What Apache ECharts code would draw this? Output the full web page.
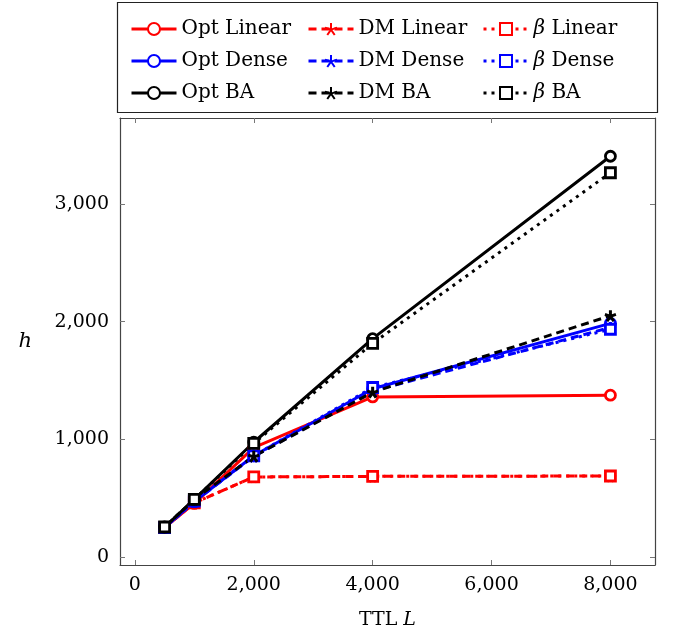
<!DOCTYPE html>
<html lang="en">
<head>
	<meta charset="UTF-8">
	<title>TTL chart</title>
	<script src="https://cdn.jsdelivr.net/npm/echarts@6/dist/echarts.min.js"></script>
</head>
<body style="margin:0">

	<div id="chart" style="width: 683px;height: 635px;"></div>

	<script type="text/javascript">
	var ttl = [500, 1000, 2000, 4000, 8000];
	var xTicks = [0, 2000, 4000, 6000, 8000];
	var yTicks = [0, 1000, 2000, 3000];

	var optLinear = [250, 455, 930, 1360, 1375];
	var dmLinear = [250, 460, 680, 685, 688];
	var betaLinear = [250, 460, 680, 685, 688];
	var optDense = [250, 470, 860, 1430, 1985];
	var dmDense = [250, 470, 855, 1410, 1950];
	var betaDense = [250, 475, 860, 1440, 1935];
	var optBA = [255, 490, 975, 1855, 3405];
	var dmBA = [255, 490, 855, 1400, 2050];
	var betaBA = [255, 490, 965, 1815, 3265];

	var font = 'DejaVu Serif';
	var starPath = 'path://M0,0 L0,-1 M0,0 L-0.951,-0.309 M0,0 L-0.588,0.809 M0,0 L0.588,0.809 M0,0 L0.951,-0.309';

	function pairs(vals) {
		var out = [];
		for (var i = 0; i < ttl.length; i++) out.push([ttl[i], vals[i]]);
		return out;
	}

	function mk(name, vals, color, kind) {
		var s = {
			name: name,
			type: 'line',
			data: pairs(vals),
			symbolSize: 10,
			lineStyle: { color: color, width: 3 },
			itemStyle: { color: '#fff', borderColor: color, borderWidth: 2.8 },
			emphasis: { disabled: true },
			animation: false
		};
		if (kind == 'opt') {
			s.symbol = 'circle';
		} else if (kind == 'dm') {
			s.symbol = starPath;
			s.symbolSize = 11;
			s.lineStyle.type = [8, 5];
			s.itemStyle = { color: color, borderColor: color, borderWidth: 3 };
		} else {
			s.symbol = 'rect';
			s.symbolSize = 10;
			s.lineStyle.type = [3, 5];
		}
		return s;
	}

	var legendText = {
		fontFamily: font, fontSize: 20, color: '#000',
		rich: { i: { fontFamily: font, fontSize: 20, fontStyle: 'italic', color: '#000' } }
	};
	function legendCol(left, names) {
		return {
			orient: 'vertical', left: left, top: 14,
			itemWidth: 45, itemHeight: 15, itemGap: 12,
			data: names,
			textStyle: legendText,
			lineStyle: { width: 3 },
			formatter: function (n) { return n.replace('β', '{i|β}'); }
		};
	}

	var chart = echarts.init(document.getElementById('chart'));

	var xBase = {
		type: 'value', min: -250, max: 8750,
		axisLine: { show: true, onZero: false, lineStyle: { color: '#444', width: 1.2 } },
		axisTick: { inside: true, length: 5, customValues: xTicks, lineStyle: { color: '#777' } },
		splitLine: { show: false }
	};
	var yBase = {
		type: 'value', min: -68, max: 3730,
		axisLine: { show: true, onZero: false, lineStyle: { color: '#444', width: 1.2 } },
		axisTick: { inside: true, length: 5, customValues: yTicks, lineStyle: { color: '#777' } },
		splitLine: { show: false }
	};

	var option = {
		backgroundColor: '#fff',
		graphic: [{
			type: 'rect',
			shape: { x: 117.5, y: 2.5, width: 540, height: 110 },
			style: { fill: 'none', stroke: '#222', lineWidth: 1.2 }
		}],
		legend: [
			legendCol(125, ['Opt Linear', 'Opt Dense', 'Opt BA']),
			legendCol(302, ['DM Linear', 'DM Dense', 'DM BA']),
			legendCol(477, ['β Linear', 'β Dense', 'β BA'])
		],
		grid: { left: 120, right: 28, top: 118, bottom: 70 },
		xAxis: [
			Object.assign({}, xBase, {
				position: 'bottom',
				name: 'TTL {i|L}', nameLocation: 'middle', nameGap: 46,
				nameTextStyle: {
					fontFamily: font, fontSize: 19, color: '#000',
					rich: { i: { fontFamily: font, fontSize: 19, fontStyle: 'italic' } }
				},
				axisLabel: {
					customValues: xTicks, margin: 11,
					fontFamily: font, fontSize: 19, color: '#000',
					formatter: function (v) { return v.toLocaleString('en-US'); }
				}
			}),
			Object.assign({}, xBase, { position: 'top', axisLabel: { show: false } })
		],
		yAxis: [
			Object.assign({}, yBase, {
				position: 'left',
				name: 'h', nameLocation: 'middle', nameGap: 88, nameRotate: 0,
				nameTextStyle: { fontFamily: font, fontSize: 21, fontStyle: 'italic', color: '#000' },
				axisLabel: {
					customValues: yTicks, margin: 11,
					fontFamily: font, fontSize: 19, color: '#000',
					formatter: function (v) { return v.toLocaleString('en-US'); }
				}
			}),
			Object.assign({}, yBase, { position: 'right', axisLabel: { show: false } })
		],
		series: [
			mk('Opt Linear', optLinear, '#ff0000', 'opt'),
			mk('DM Linear', dmLinear, '#ff0000', 'dm'),
			mk('β Linear', betaLinear, '#ff0000', 'beta'),
			mk('Opt Dense', optDense, '#0000ff', 'opt'),
			mk('DM Dense', dmDense, '#0000ff', 'dm'),
			mk('β Dense', betaDense, '#0000ff', 'beta'),
			mk('Opt BA', optBA, '#000000', 'opt'),
			mk('DM BA', dmBA, '#000000', 'dm'),
			mk('β BA', betaBA, '#000000', 'beta')
		]
	};
	chart.setOption(option);
	</script>
</body>
</html>
